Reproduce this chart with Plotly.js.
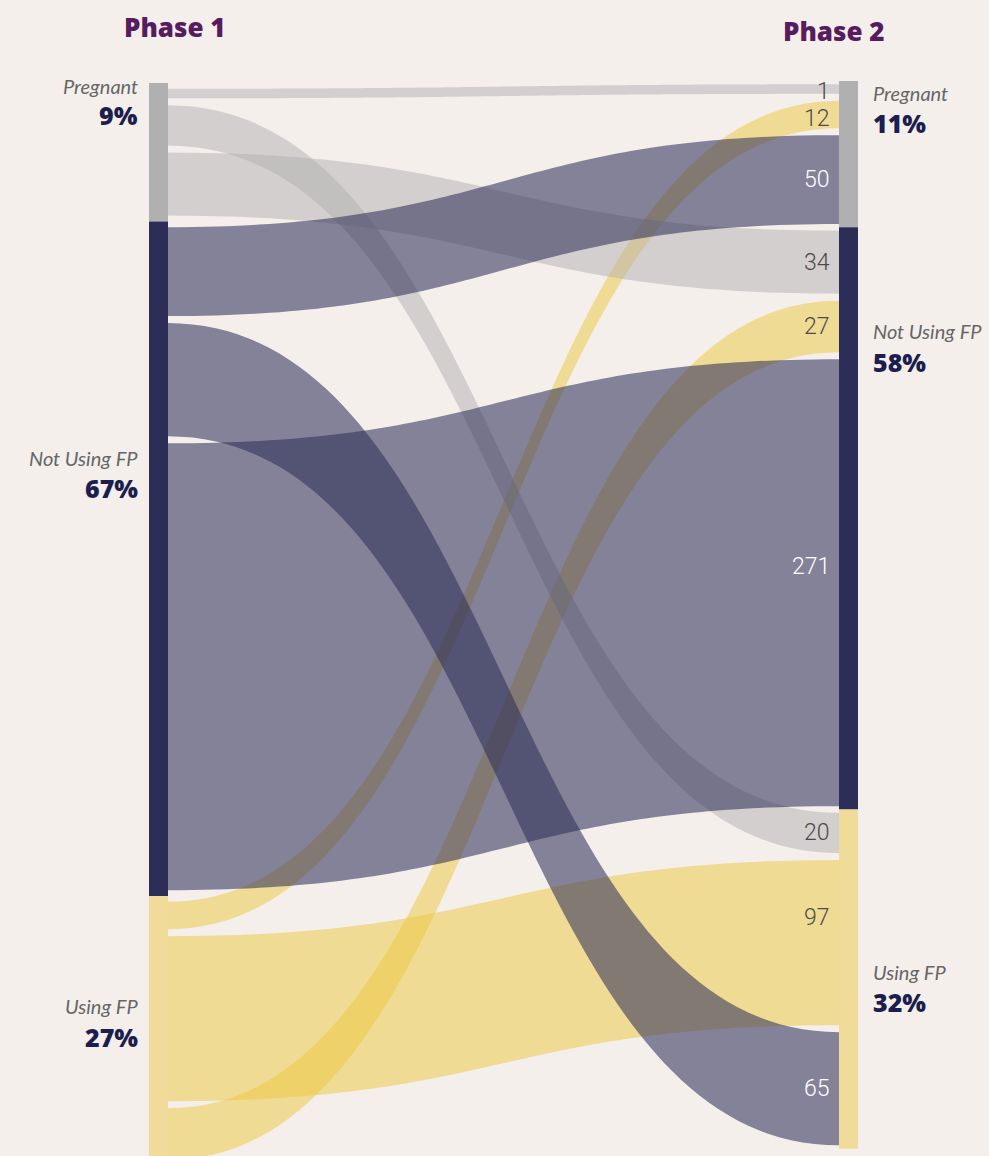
<!DOCTYPE html>
<html>
<head>
<meta charset="utf-8">
<script src="https://cdn.plot.ly/plotly-3.0.1.min.js"></script>
<style>
html,body{margin:0;padding:0;background:#f5efec;}
#chart{width:989px;height:1156px;}
</style>
</head>
<body>
<div id="chart"></div>
<script>
// ---------------- DATA ----------------
const phaseTitles = ["Phase 1", "Phase 2"];
const statusCategories = ["Pregnant", "Not Using FP", "Using FP"];
const phase1Percent = ["9%", "67%", "27%"];
const phase2Percent = ["11%", "58%", "32%"];
const linkSource = ["Pregnant", "Pregnant", "Pregnant",
                    "Not Using FP", "Not Using FP", "Not Using FP",
                    "Using FP", "Using FP", "Using FP"];
const linkTarget = ["Pregnant", "Not Using FP", "Using FP",
                    "Pregnant", "Not Using FP", "Using FP",
                    "Pregnant", "Not Using FP", "Using FP"];
const linkValue = [1, 34, 20, 50, 271, 65, 12, 27, 97];
// order of ribbons inside each node
const ribbonOrder = ["Pregnant", "Using FP", "Not Using FP"];

// ---------------- STYLE / LAYOUT ----------------
const W = 989, H = 1156;
const nodeColor = {"Pregnant": "#b0b0b0", "Not Using FP": "#2d2e57", "Using FP": "#f0db9a"};
const linkColor = {"Pregnant": "rgba(178,176,176,0.5)", "Not Using FP": "rgba(46,47,88,0.57)", "Using FP": "rgba(236,200,62,0.5)"};
const valueColor = {"Pregnant": "#4a4a4a", "Not Using FP": "#ffffff", "Using FP": "#4a4a4a"};
const drawOrder = ["Using FP", "Pregnant", "Not Using FP"];
const col = {
  left:  {x0: 149, x1: 168, top: 83, pad: 5.8},
  right: {x0: 839, x1: 858, top: 81, pad: 3.3}
};
const ribbonGap = 7;
const widthBase = 7.9, widthPerUnit = 1.62;   // ribbon thickness scale
const leftLabelY  = [[86, 115], [458, 488], [1006, 1037]];
const rightLabelY = [[93, 123], [331, 362], [972, 1002]];
const valueLabelShift = {"1": 2, "12": 4, "271": -16, "97": -25};

function thick(v){ return widthBase + widthPerUnit * v; }

// ---------------- LAYOUT COMPUTATION ----------------
function layoutSide(side, keyOwn, keyOther) {
  const c = col[side];
  let y = c.top;
  const nodes = {};
  const pos = {};
  statusCategories.forEach(cat => {
    const idx = linkValue.map((v,i)=>i).filter(i => (keyOwn === 's' ? linkSource[i] : linkTarget[i]) === cat);
    idx.sort((a,b) => {
      const oa = keyOther === 't' ? linkTarget[a] : linkSource[a];
      const ob = keyOther === 't' ? linkTarget[b] : linkSource[b];
      return ribbonOrder.indexOf(oa) - ribbonOrder.indexOf(ob);
    });
    const start = y;
    y += c.pad;
    idx.forEach((i, k) => {
      if (k > 0) y += ribbonGap;
      pos[i] = [y, y + thick(linkValue[i])];
      y += thick(linkValue[i]);
    });
    y += c.pad;
    nodes[cat] = [start, y];
  });
  return {nodes, pos};
}
const L = layoutSide('left', 's', 't');
const R = layoutSide('right', 't', 's');

function curve(x0, y0, x1, y1, n) {
  const xm = (x0 + x1) / 2, xs = [], ys = [];
  for (let k = 0; k <= n; k++) {
    const t = k / n, u = 1 - t;
    xs.push(u*u*u*x0 + 3*u*u*t*xm + 3*u*t*t*xm + t*t*t*x1);
    ys.push(u*u*u*y0 + 3*u*u*t*y0 + 3*u*t*t*y1 + t*t*t*y1);
  }
  return [xs, ys];
}

const traces = [];
drawOrder.forEach(srcCat => {
  linkValue.forEach((v, i) => {
    if (linkSource[i] !== srcCat) return;
    const a = L.pos[i], b = R.pos[i];
    const top = curve(col.left.x1, a[0], col.right.x0, b[0], 80);
    const bot = curve(col.left.x1, a[1], col.right.x0, b[1], 80);
    traces.push({
      type: 'scatter', mode: 'none', fill: 'toself',
      fillcolor: linkColor[srcCat],
      x: top[0].concat(bot[0].slice().reverse()),
      y: top[1].concat(bot[1].slice().reverse()),
      hoverinfo: 'skip', showlegend: false
    });
  });
});

const shapes = [];
statusCategories.forEach(cat => {
  shapes.push({type:'rect', xref:'x', yref:'y', x0: col.left.x0, x1: col.left.x1,
    y0: L.nodes[cat][0], y1: L.nodes[cat][1], fillcolor: nodeColor[cat], line:{width:0}, layer:'above'});
  shapes.push({type:'rect', xref:'x', yref:'y', x0: col.right.x0, x1: col.right.x1,
    y0: R.nodes[cat][0], y1: R.nodes[cat][1], fillcolor: nodeColor[cat], line:{width:0}, layer:'above'});
});

const nameFont = {family: 'Lato, sans-serif', size: 20, color: '#666666', style: 'italic'};
const pctFont = {family: 'Open Sans, sans-serif', size: 25, color: '#1c1e4f', weight: 800};
const titleFont = {family:'Open Sans, sans-serif', size:26, color:'#561c5f', weight:800};
const annotations = [];
annotations.push({xref:'x', yref:'y', x: 175, y: 27, text: phaseTitles[0], showarrow:false,
  font: titleFont, xanchor:'center', yanchor:'middle'});
annotations.push({xref:'x', yref:'y', x: 834, y: 31, text: phaseTitles[1], showarrow:false,
  font: titleFont, xanchor:'center', yanchor:'middle'});
statusCategories.forEach((cat, k) => {
  annotations.push({xref:'x', yref:'y', x: 140, y: leftLabelY[k][0], text: cat, showarrow:false,
    font: nameFont, xanchor:'right', yanchor:'middle'});
  annotations.push({xref:'x', yref:'y', x: 140, y: leftLabelY[k][1], text: phase1Percent[k], showarrow:false,
    font: pctFont, xanchor:'right', yanchor:'middle'});
  annotations.push({xref:'x', yref:'y', x: 871, y: rightLabelY[k][0], text: cat, showarrow:false,
    font: nameFont, xanchor:'left', yanchor:'middle'});
  annotations.push({xref:'x', yref:'y', x: 871, y: rightLabelY[k][1], text: phase2Percent[k], showarrow:false,
    font: pctFont, xanchor:'left', yanchor:'middle'});
});
linkValue.forEach((v, i) => {
  const b = R.pos[i];
  const shift = valueLabelShift[String(v)] || 0;
  annotations.push({xref:'x', yref:'y', x: 832, y: (b[0] + b[1]) / 2 + shift, text: String(v), showarrow:false,
    font:{family:'Roboto, sans-serif', size:23, color: valueColor[linkSource[i]], weight:300},
    xanchor:'right', yanchor:'middle'});
});

const layout = {
  width: W, height: H,
  margin: {l:0, r:0, t:0, b:0, pad:0},
  paper_bgcolor: '#f5efec', plot_bgcolor: '#f5efec',
  xaxis: {range:[0, W], visible:false, fixedrange:true},
  yaxis: {range:[H, 0], visible:false, fixedrange:true},
  shapes, annotations, showlegend:false, hovermode:false
};
Plotly.newPlot('chart', traces, layout, {displayModeBar:false, staticPlot:true});
</script>
</body>
</html>
